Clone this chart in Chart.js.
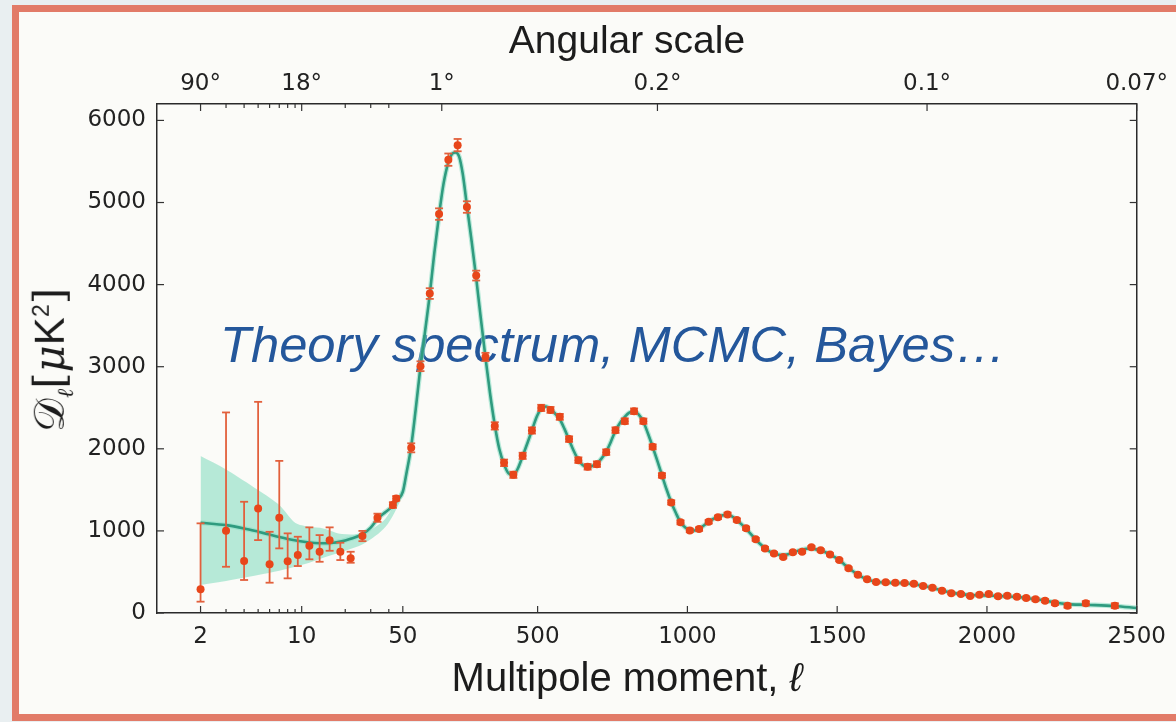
<!DOCTYPE html>
<html lang="en">
<head>
<meta charset="UTF-8">
<title>Espectro de potência</title>
<script src="https://cdn.jsdelivr.net/npm/chart.js"></script>
<style>
    body { margin: 0; width: 1176px; height: 722px; overflow: hidden; position: relative; background: #e9eff1; font-family: 'Liberation Sans', Arial, sans-serif; color: #1c1c1c; }
    .moldura { position: absolute; left: 12px; top: 5px; width: 1200px; height: 702px; border: 7px solid #e27b68; border-right: none; background: #fbfbf8; }
    #grafico { position: absolute; left: 0; top: 0; z-index: 2; }
    .texto { position: absolute; white-space: nowrap; line-height: 1; }
    #tituloTopo { left: 627px; top: 20px; font-size: 39px; transform: translateX(-50%); z-index: 3; }
    #tituloBaixo { left: 627px; top: 657px; font-size: 40px; transform: translateX(-50%); z-index: 3; }
    #tituloY { left: 53px; top: 360px; font-size: 42px; transform: translate(-50%, -50%) rotate(-90deg); font-family: 'DejaVu Serif', serif; z-index: 3; }
    #tituloY sub { font-size: 22px; font-style: italic; }
    #tituloY sup { font-size: 23px; font-family: 'Liberation Sans', sans-serif; }
    #tituloY .k { font-family: 'Liberation Sans', sans-serif; }
    #chamada { left: 220px; top: 320px; font-size: 50.7px; font-style: italic; color: #24579b; z-index: 1; }
</style>
</head>
<body>
<div class="moldura"></div>
<div id="chamada" class="texto">Theory spectrum, MCMC, Bayes…</div>
<canvas id="grafico" width="1176" height="722"></canvas>
<div id="tituloTopo" class="texto">Angular scale</div>
<div id="tituloBaixo" class="texto">Multipole moment, <i>ℓ</i></div>
<div id="tituloY" class="texto">𝒟<sub>ℓ</sub>[<i>μ</i><span class="k">K</span><sup>2</sup>]</div>

<script>
    // eixos
    const xTicks = [2, 10, 50, 500, 1000, 1500, 2000, 2500]
    const xMinor = [3, 4, 5, 6, 7, 8, 9, 20, 30, 40]
    const topTicks = [2, 10, 180, 900, 1800, 2500]
    const topLabels = ['90°', '18°', '1°', '0.2°', '0.1°', '0.07°']
    const yTicks = [0, 1000, 2000, 3000, 4000, 5000, 6000]

    // pontos de baixo l (com barras de erro assimétricas)
    const lowEll = [2, 3, 4, 5, 6, 7, 8, 9.4, 11.3, 13.3, 15.6, 18.5, 21.8, 26.3, 33.4, 42.7, 45]
    const lowD = [288, 1002, 633, 1274, 593, 1160, 629, 706, 819, 746, 885, 746, 666, 937, 1160, 1314, 1396]
    const lowUpper = [1092, 2443, 1355, 2572, 989, 1853, 970, 929, 1043, 949, 1043, 856, 746, 1000, 1210, 1350, 1425]
    const lowLower = [138, 563, 402, 888, 369, 787, 422, 572, 654, 624, 758, 645, 612, 875, 1110, 1280, 1368]

    // pontos de alto l
    const highEll = [78, 109, 140, 171, 202, 233, 264, 295, 326, 357,
        388, 419, 450, 481, 512, 543, 574, 605, 636, 667,
        698, 729, 760, 791, 822, 853, 884, 915, 946, 977,
        1008, 1039, 1071, 1102, 1134, 1165, 1196, 1228, 1259, 1289,
        1320, 1352, 1383, 1414, 1445, 1476, 1507, 1538, 1569, 1600,
        1630, 1662, 1694, 1725, 1756, 1787, 1818, 1850, 1881, 1913,
        1944, 1975, 2006, 2037, 2068, 2100, 2131, 2162, 2194, 2227,
        2269, 2330, 2427]
    const highD = [2012, 3006, 3891, 4859, 5522, 5699, 4945, 4110, 3119, 2279,
        1829, 1683, 1914, 2223, 2498, 2474, 2389, 2118, 1862, 1780,
        1813, 1959, 2227, 2337, 2458, 2337, 2024, 1676, 1347, 1104,
        1006, 1022, 1111, 1165, 1201, 1132, 1031, 897, 787, 726,
        682, 739, 746, 800, 763, 714, 645, 544, 466, 410,
        377, 374, 367, 365, 357, 330, 308, 272, 241, 231,
        207, 223, 231, 203, 211, 199, 183, 167, 150, 118,
        89, 118, 89]
    const highErr = [55, 60, 65, 70, 75, 75, 70, 60, 50, 45,
        40, 38, 38, 38, 38, 36, 36, 34, 34, 34,
        34, 34, 34, 34, 34, 32, 30, 28, 26, 24,
        22, 22, 22, 22, 22, 20, 20, 18, 18, 16,
        16, 16, 16, 16, 16, 15, 15, 14, 14, 14,
        14, 14, 14, 14, 14, 14, 14, 14, 14, 14,
        14, 15, 15, 15, 16, 16, 17, 18, 19, 20,
        24, 26, 30]

    // curva teórica
    const theoryEll = [2, 3, 4, 5, 6, 7, 8, 9.4, 11.3, 13.3,
        15.6, 18.5, 21.8, 26.3, 30, 33.4, 38, 42.7, 46, 50,
        62, 78, 93, 109, 125, 140, 155, 171, 186, 202,
        214, 226, 238, 250, 264, 280, 295, 310, 326, 341,
        357, 372, 388, 403, 419, 434, 450, 466, 481, 497,
        512, 528, 543, 558, 574, 590, 605, 620, 636, 651,
        667, 682, 698, 713, 729, 745, 760, 776, 791, 806,
        822, 837, 853, 868, 884, 900, 915, 930, 946, 962,
        977, 993, 1008, 1024, 1039, 1055, 1071, 1086, 1102, 1118,
        1134, 1150, 1165, 1181, 1196, 1212, 1228, 1243, 1259, 1274,
        1289, 1305, 1320, 1336, 1352, 1367, 1383, 1398, 1414, 1430,
        1445, 1461, 1476, 1492, 1507, 1523, 1538, 1554, 1569, 1585,
        1600, 1615, 1630, 1662, 1694, 1725, 1756, 1787, 1818, 1850,
        1881, 1913, 1944, 1975, 2006, 2037, 2068, 2100, 2131, 2162,
        2194, 2227, 2269, 2330, 2427, 2500]
    const theoryD = [1100, 1070, 1030, 990, 955, 925, 902, 880, 858, 850,
        850, 870, 905, 960, 1040, 1145, 1230, 1305, 1380, 1476,
        1700, 2030, 2480, 3000, 3450, 3880, 4380, 4850, 5230, 5490,
        5590, 5610, 5560, 5350, 4960, 4520, 4080, 3600, 3110, 2680,
        2290, 2000, 1810, 1700, 1680, 1760, 1910, 2070, 2225, 2390,
        2490, 2515, 2480, 2430, 2360, 2240, 2110, 1980, 1865, 1800,
        1780, 1790, 1820, 1880, 1965, 2090, 2220, 2320, 2390, 2440,
        2455, 2420, 2330, 2190, 2025, 1850, 1680, 1510, 1350, 1215,
        1105, 1040, 1010, 1005, 1025, 1065, 1110, 1145, 1170, 1190,
        1195, 1175, 1130, 1080, 1025, 960, 895, 840, 790, 752,
        726, 710, 705, 715, 735, 755, 770, 782, 785, 775,
        760, 740, 712, 680, 642, 595, 548, 505, 467, 435,
        410, 392, 380, 370, 366, 362, 352, 332, 306, 274,
        248, 230, 218, 215, 213, 208, 202, 194, 182, 168,
        152, 128, 108, 100, 86, 60]

    // faixa da variância cósmica
    const bandEll = [2, 3, 5, 7, 9, 11.3, 14.1, 19, 27, 38, 49, 50]
    const bandHigh = [1911, 1749, 1497, 1314, 1099, 1050, 1030, 961, 977, 1152, 1497, 1476]
    const bandLow = [341, 389, 462, 515, 564, 612, 673, 746, 848, 1050, 1396, 1476]

    // eixo x: log até l=50, linear depois
    const CORTE = 50
    const UNID_DECADA = 483
    function paraUnidade(v) {
        return v <= CORTE ? -UNID_DECADA * Math.log10(CORTE / v) : v - CORTE
    }
    function deUnidade(u) {
        return u <= 0 ? CORTE / Math.pow(10, -u / UNID_DECADA) : u + CORTE
    }

    class HybridScale extends Chart.LinearScale {
        static id = 'hybrid'
        static defaults = {}
        determineDataLimits() {
            this.min = this.options.min
            this.max = this.options.max
        }
        buildTicks() {
            return []
        }
        getPixelForValue(v) {
            const a = paraUnidade(this.min), b = paraUnidade(this.max)
            return this.getPixelForDecimal((paraUnidade(v) - a) / (b - a))
        }
        getValueForPixel(p) {
            const a = paraUnidade(this.min), b = paraUnidade(this.max)
            return deUnidade(a + this.getDecimalForPixel(p) * (b - a))
        }
    }
    Chart.register(HybridScale)

    function pares(xs, ys) {
        return xs.map((x, i) => ({ x: x, y: ys[i] }))
    }

    function seg(ctx, x1, y1, x2, y2) {
        ctx.beginPath()
        ctx.moveTo(x1, y1)
        ctx.lineTo(x2, y2)
        ctx.stroke()
    }

    const barrasErro = {
        id: 'barrasErro',
        beforeDatasetDraw(chart, args) {
            if (args.index !== 0) return
            const { ctx, scales: { x, y } } = chart
            ctx.save()
            ctx.strokeStyle = '#e2603c'
            ctx.lineWidth = 1.8
            const barra = (l, lo, hi) => {
                const px = x.getPixelForValue(l), p1 = y.getPixelForValue(lo), p2 = y.getPixelForValue(hi)
                seg(ctx, px, p1, px, p2)
                seg(ctx, px - 4, p1, px + 4, p1)
                seg(ctx, px - 4, p2, px + 4, p2)
            }
            lowEll.forEach((l, i) => barra(l, lowLower[i], lowUpper[i]))
            highEll.forEach((l, i) => barra(l, highD[i] - highErr[i], highD[i] + highErr[i]))
            ctx.restore()
        }
    }

    const ticksDentro = {
        id: 'ticksDentro',
        afterDraw(chart) {
            const { ctx, chartArea: a, scales } = chart
            ctx.save()
            ctx.strokeStyle = '#333'
            ctx.lineWidth = 1.2
            xTicks.forEach(v => {
                const p = scales.x.getPixelForValue(v)
                seg(ctx, p, a.bottom, p, a.bottom - 7)
            })
            topTicks.forEach(v => {
                const p = scales.x2.getPixelForValue(v)
                seg(ctx, p, a.top, p, a.top + 7)
            })
            xMinor.forEach(v => {
                const p = scales.x.getPixelForValue(v)
                seg(ctx, p, a.bottom, p, a.bottom - 4)
                seg(ctx, p, a.top, p, a.top + 4)
            })
            yTicks.forEach(v => {
                const p = scales.y.getPixelForValue(v)
                seg(ctx, a.left, p, a.left + 7, p)
                seg(ctx, a.right, p, a.right - 7, p)
            })
            ctx.restore()
        }
    }

    const fonteTick = { family: "'DejaVu Sans', sans-serif", size: 23 }
    const borda = { display: true, color: '#2a2a2a', width: 1.5 }

    new Chart(document.getElementById('grafico'), {
        type: 'line',
        data: {
            datasets: [{
                label: 'Dados',
                data: pares(lowEll, lowD).concat(pares(highEll, highD)),
                showLine: false,
                pointRadius: 4,
                pointBorderWidth: 0,
                pointBackgroundColor: '#e8461a',
                order: 0
            }, {
                label: 'Teoria',
                data: pares(theoryEll, theoryD),
                borderColor: '#2f9b7f',
                borderWidth: 2.6,
                pointRadius: 0,
                cubicInterpolationMode: 'monotone',
                order: 1
            }, {
                label: 'Halo',
                data: pares(theoryEll, theoryD),
                borderColor: 'rgba(140, 222, 196, 0.6)',
                borderWidth: 5,
                pointRadius: 0,
                cubicInterpolationMode: 'monotone',
                order: 2
            }, {
                label: 'Faixa sup',
                data: pares(bandEll, bandHigh),
                borderWidth: 0,
                pointRadius: 0,
                tension: 0.3,
                fill: '+1',
                backgroundColor: 'rgba(125, 218, 188, 0.55)',
                order: 3
            }, {
                label: 'Faixa inf',
                data: pares(bandEll, bandLow),
                borderWidth: 0,
                pointRadius: 0,
                tension: 0.3,
                fill: false,
                order: 4
            }]
        },
        options: {
            responsive: false,
            animation: false,
            devicePixelRatio: 1,
            plugins: { legend: { display: false }, tooltip: { enabled: false } },
            scales: {
                x: {
                    type: 'hybrid', position: 'bottom', min: 1, max: 2500,
                    grid: { display: false, drawTicks: false }, border: borda,
                    ticks: { font: fonteTick, color: '#222', padding: 10, autoSkip: false, maxRotation: 0, callback: v => String(v) },
                    afterBuildTicks: s => { s.ticks = xTicks.map(v => ({ value: v })) },
                    afterFit: s => { s.height = 109 }
                },
                x2: {
                    type: 'hybrid', axis: 'x', position: 'top', min: 1, max: 2500,
                    grid: { display: false, drawTicks: false }, border: borda,
                    ticks: { font: fonteTick, color: '#222', padding: 6, autoSkip: false, maxRotation: 0, callback: (v, i) => topLabels[i] },
                    afterBuildTicks: s => { s.ticks = topTicks.map(v => ({ value: v })) },
                    afterFit: s => { s.height = 104 }
                },
                y: {
                    type: 'linear', position: 'left', min: 0, max: 6200,
                    grid: { display: false, drawTicks: false }, border: borda,
                    ticks: { font: fonteTick, color: '#222', padding: 11, callback: v => String(v) },
                    afterBuildTicks: s => { s.ticks = yTicks.map(v => ({ value: v })) },
                    afterFit: s => { s.width = 157 }
                },
                y2: {
                    type: 'linear', position: 'right', min: 0, max: 6200,
                    grid: { display: false, drawTicks: false }, border: borda,
                    ticks: { display: false },
                    afterFit: s => { s.width = 30 }
                }
            }
        },
        plugins: [barrasErro, ticksDentro]
    })
</script>
</body>
</html>
